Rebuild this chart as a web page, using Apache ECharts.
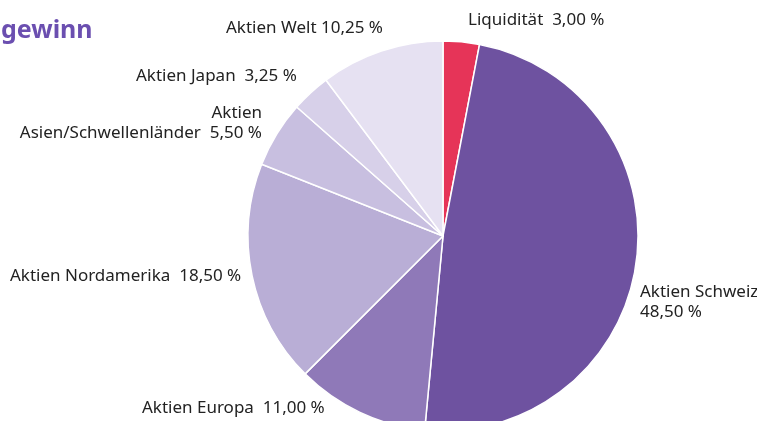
<!DOCTYPE html>
<html>
<head>
<meta charset="utf-8">
<script src="https://cdn.jsdelivr.net/npm/echarts@6/dist/echarts.min.js"></script>
<style>
  html, body { margin: 0; padding: 0; background: #fff; }
  #chart { width: 757px; height: 421px; }
</style>
</head>
<body>
<div id="chart"></div>
<script>
// Anteile in Prozent, im Uhrzeigersinn ab 12 Uhr
var names = ['Liquidität', 'Aktien Schweiz', 'Aktien Europa', 'Aktien Nordamerika',
    'Aktien\nAsien/Schwellenländer', 'Aktien Japan', 'Aktien Welt']
var values = [3.00, 48.50, 11.00, 18.50, 5.50, 3.25, 10.25]
var separators = ['  ', '\n', '  ', '  ', '  ', '  ', ' ']
var colors = ['#e63458', '#6e52a0', '#8f79b8', '#b9aed6', '#c8bfe0', '#d7d0e9', '#e6e1f2']

// Positionen der Beschriftungen (Pixel)
var labelPos = [
    {x: 468, y: 20, align: 'left'},
    {x: 640, y: 302, align: 'left'},
    {x: 142, y: 408, align: 'left'},
    {x: 10, y: 276, align: 'left'},
    {x: 262, y: 123, align: 'right'},
    {x: 136, y: 76, align: 'left'},
    {x: 226, y: 28, align: 'left'},
]

function fmt(v) {
    return v.toFixed(2).replace('.', ',') + ' %'
}

var data = names.map(function (n, i) {
    return {name: n, value: values[i], itemStyle: {color: colors[i]}}
})

var chart = echarts.init(document.getElementById('chart'))
chart.setOption({
    animation: false,
    title: {
        text: 'gewinn',
        left: -4,
        top: 13,
        textStyle: {fontFamily: 'Noto Sans', fontSize: 25, fontWeight: 'bold', color: '#6b4fb0'}
    },
    series: [{
        type: 'pie',
        center: [443, 236],
        radius: 195,
        startAngle: 90,
        clockwise: true,
        data: data,
        itemStyle: {borderColor: '#fff', borderWidth: 1.5},
        label: {
            show: true,
            position: 'outside',
            fontFamily: 'Noto Sans',
            fontSize: 17,
            color: '#222',
            lineHeight: 20,
            overflow: 'none',
            width: 300,
            formatter: function (p) {
                return p.name + separators[p.dataIndex] + fmt(p.value)
            }
        },
        labelLine: {show: false},
        labelLayout: function (p) {
            var l = labelPos[p.dataIndex]
            return {x: l.x, y: l.y, align: l.align, verticalAlign: 'middle'}
        }
    }]
})
</script>
</body>
</html>
